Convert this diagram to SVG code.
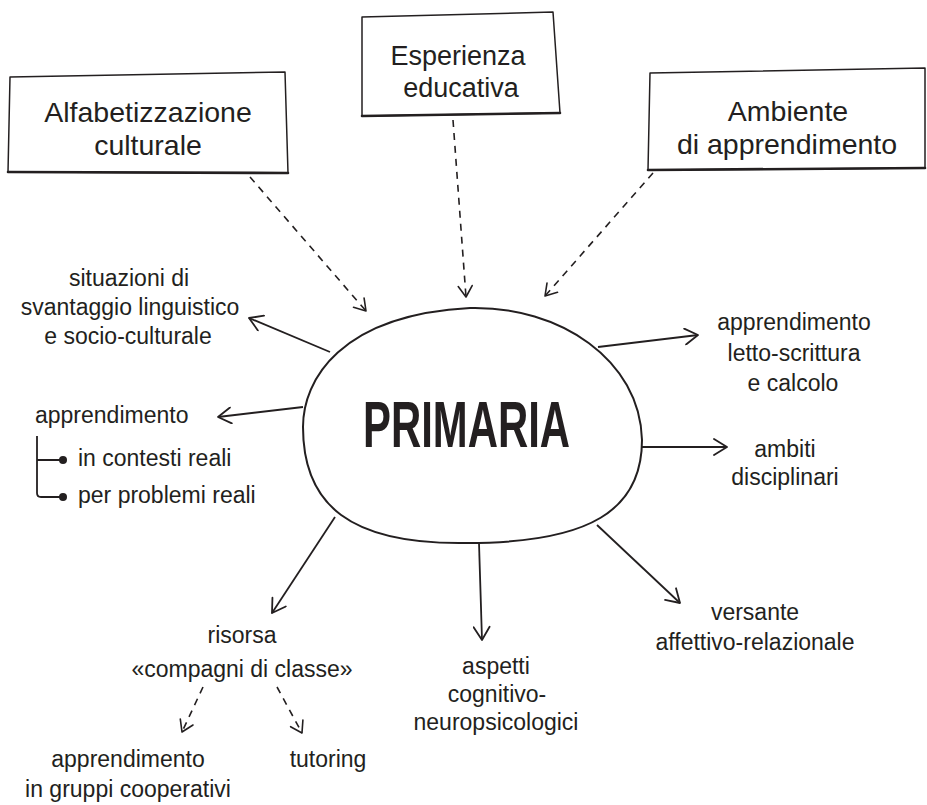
<svg xmlns="http://www.w3.org/2000/svg" width="927" height="805" viewBox="0 0 927 805">
<style>
  .bg { fill: #ffffff; }
  .box { fill: #ffffff; stroke: #231f20; stroke-width: 1.5; stroke-linejoin: round; }
  .boxbase { fill: none; stroke: #231f20; stroke-width: 2.6; stroke-linecap: round; }
  .blob { fill: #ffffff; stroke: #231f20; stroke-width: 2; }
  .solid { fill: none; stroke: #231f20; stroke-width: 1.8; marker-end: url(#arrow); }
  .dash { fill: none; stroke: #231f20; stroke-width: 1.6; stroke-dasharray: 7 6; marker-end: url(#arrowd); }
  .tree { fill: none; stroke: #231f20; stroke-width: 1.8; }
  .dot { fill: #231f20; }
  .t { font-family: "Liberation Sans", "Noto Sans", sans-serif; fill: #231f20; }
  .big { font-size: 28.5px; text-anchor: middle; }
  .mid { font-size: 27px; text-anchor: middle; }
  .lbl { font-size: 23px; text-anchor: middle; }
  .lft { font-size: 23px; text-anchor: start; }
  .main { font-size: 64px; font-weight: bold; }
</style>
<defs>
  <marker id="arrow" viewBox="0 0 16 18" refX="15" refY="9" markerWidth="16" markerHeight="18" markerUnits="userSpaceOnUse" orient="auto">
    <path d="M2,1 L15,9 L2,17" fill="none" stroke="#231f20" stroke-width="1.8" stroke-linecap="round" stroke-linejoin="round"/>
  </marker>
  <marker id="arrowd" viewBox="0 0 14 16" refX="13" refY="8" markerWidth="14" markerHeight="16" markerUnits="userSpaceOnUse" orient="auto">
    <path d="M2,1 L13,8 L2,15" fill="none" stroke="#231f20" stroke-width="1.6" stroke-linecap="round" stroke-linejoin="round"/>
  </marker>
</defs>
<rect class="bg" x="0" y="0" width="927" height="805"/>

<g id="connectors">
  <path class="dash" d="M250,177 L366,311"/>
  <path class="dash" d="M453,120 L466,297"/>
  <path class="dash" d="M653,173 L545,296"/>
  <path class="solid" d="M330,352 L249,318"/>
  <path class="solid" d="M303,407 L218,417"/>
  <path class="solid" d="M598,347 L698,335"/>
  <path class="solid" d="M642,447 L727,447"/>
  <path class="solid" d="M597,525 L680,603"/>
  <path class="solid" d="M479,543 L482,640"/>
  <path class="solid" d="M335,517 L272,613"/>
  <path class="dash" d="M203,687 L182,732"/>
  <path class="dash" d="M277,687 L302,733"/>
</g>

<g id="box-alfabetizzazione">
  <polygon class="box" points="10,77 285,72 288,173 8,172"/>
  <path class="boxbase" d="M8,172 L288,173"/>
  <text class="t big" x="148" y="122">Alfabetizzazione</text>
  <text class="t big" x="148" y="155">culturale</text>
</g>

<g id="box-esperienza">
  <polygon class="box" points="362,17 553,12 560,113 362,116"/>
  <path class="boxbase" d="M362,116 L560,113"/>
  <text class="t mid" x="458" y="65">Esperienza</text>
  <text class="t mid" x="461" y="97">educativa</text>
</g>

<g id="box-ambiente">
  <polygon class="box" points="650,73 925,68 925,168 648,170"/>
  <path class="boxbase" d="M648,170 L925,168"/>
  <text class="t big" x="788" y="121">Ambiente</text>
  <text class="t big" x="787" y="154">di apprendimento</text>
</g>

<g id="primaria">
  <path class="blob" d="M470,308 C560,306 640,360 642,440 C642,510 590,543 467,543 C350,545 303,505 303,427 C303,380 340,315 470,308 Z"/>
  <text class="t main" x="363" y="447" textLength="207" lengthAdjust="spacingAndGlyphs">PRIMARIA</text>
</g>

<g id="situazioni">
  <text class="t lbl" x="129" y="286">situazioni di</text>
  <text class="t lbl" x="130" y="315">svantaggio linguistico</text>
  <text class="t lbl" x="128" y="344">e socio-culturale</text>
</g>

<g id="apprendimento-reali">
  <text class="t lft" x="35" y="423">apprendimento</text>
  <path class="tree" d="M37,436 L37,493 Q37,497 41,497 L62,497 M37,460 L62,460"/>
  <circle class="dot" cx="63" cy="460" r="4"/>
  <circle class="dot" cx="63" cy="497" r="4"/>
  <text class="t lft" x="78" y="466">in contesti reali</text>
  <text class="t lft" x="78" y="503">per problemi reali</text>
</g>

<g id="letto-scrittura">
  <text class="t lbl" x="794" y="330">apprendimento</text>
  <text class="t lbl" x="794" y="361">letto-scrittura</text>
  <text class="t lbl" x="793" y="391">e calcolo</text>
</g>

<g id="ambiti">
  <text class="t lbl" x="785" y="457">ambiti</text>
  <text class="t lbl" x="785" y="485">disciplinari</text>
</g>

<g id="versante">
  <text class="t lbl" x="755" y="620">versante</text>
  <text class="t lbl" x="755" y="650">affettivo-relazionale</text>
</g>

<g id="aspetti">
  <text class="t lbl" x="496" y="674">aspetti</text>
  <text class="t lbl" x="497" y="702">cognitivo-</text>
  <text class="t lbl" x="496" y="730">neuropsicologici</text>
</g>

<g id="risorsa">
  <text class="t lbl" x="242" y="643">risorsa</text>
  <text class="t lbl" x="242" y="677">«compagni di classe»</text>
</g>

<g id="cooperativi">
  <text class="t lbl" x="128" y="767">apprendimento</text>
  <text class="t lbl" x="128" y="797">in gruppi cooperativi</text>
</g>

<g id="tutoring">
  <text class="t lbl" x="328" y="767">tutoring</text>
</g>
</svg>
